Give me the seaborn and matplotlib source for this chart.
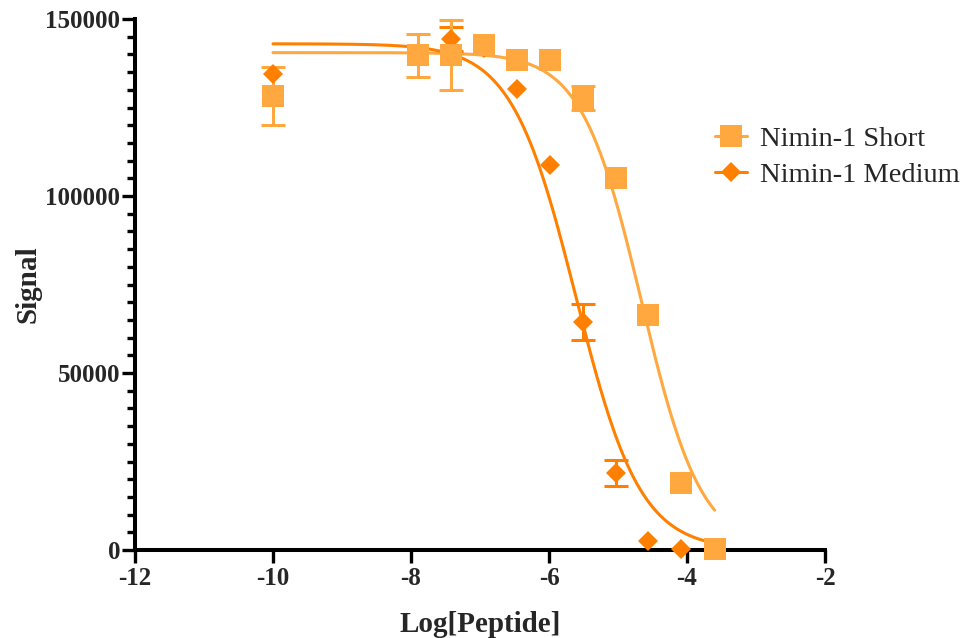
import numpy as np
import pandas as pd
import matplotlib
matplotlib.use("Agg")
import matplotlib.pyplot as plt
from matplotlib.lines import Line2D
from matplotlib.ticker import MultipleLocator
import seaborn as sns

# ---- data ----
log_peptide = [-10.0, -7.90, -7.42, -6.94, -6.47, -5.99, -5.51, -5.03, -4.56, -4.08, -3.60]
short_signal = [128250, 139800, 139800, 142650, 138400, 138400, 127700, 105100, 66300, 18900, 300]
short_err = [8200, 6100, 9800, 0, 0, 0, 3300, 0, 0, 0, 0]
medium_signal = [134450, 139500, 144350, 141800, 130200, 108700, 64400, 21750, 2540, 300, 200]
medium_err = [0, 0, 3400, 0, 0, 0, 5200, 3700, 0, 0, 0]

# fitted 4-parameter logistic curves (top, bottom, logIC50, hill) read from the drawn fits
short_fit = {"top": 140500, "bottom": 0, "logic50": -4.66, "hill": 1.0}
medium_fit = {"top": 143000, "bottom": 0, "logic50": -5.61, "hill": 0.93}
fit_range = (-10.0, -3.60)

series_names = ["Nimin-1 Short", "Nimin-1 Medium"]
x_ticks = [-12, -10, -8, -6, -4, -2]
y_ticks = [0, 50000, 100000, 150000]

# ---- style ----
sns.set_style("ticks")
plt.rcParams["font.family"] = ["Liberation Serif", "DejaVu Serif"]

c_short = "#FFA83F"
c_medium = "#FF8000"

fig = plt.figure(figsize=(9.66, 6.38), dpi=100)
ax = fig.add_axes([135 / 966, 1 - 550 / 638, 690 / 966, 531 / 638])

# curves
def curve_frame(p, name):
    xs = np.linspace(fit_range[0], fit_range[1], 400)
    ys = p["bottom"] + (p["top"] - p["bottom"]) / (1 + 10 ** ((xs - p["logic50"]) * p["hill"]))
    return pd.DataFrame({"x": xs, "y": ys, "series": name})

curves = pd.concat([curve_frame(short_fit, series_names[0]),
                    curve_frame(medium_fit, series_names[1])])
sns.lineplot(data=curves, x="x", y="y", hue="series",
             palette={series_names[0]: c_short, series_names[1]: c_medium},
             linewidth=2.2, legend=False, ax=ax, zorder=2, sort=False)

x = np.array(log_peptide)
for ys, es, col, mk, ms, z in [
    (medium_signal, medium_err, c_medium, "D", 10.3, 4),
    (short_signal, short_err, c_short, "s", 15.6, 5),
]:
    ys = np.array(ys, dtype=float)
    es = np.array(es, dtype=float)
    m = es > 0
    ax.errorbar(x[m], ys[m], yerr=es[m], fmt="none", ecolor=col, elinewidth=2.2,
                capsize=8.3, capthick=2.2, zorder=3, clip_on=False)
    ax.plot(x, ys, linestyle="none", marker=mk, markersize=ms, color=col,
            markeredgewidth=0, zorder=z, clip_on=False)

ax.set_xlim(-12, -2)
ax.set_ylim(0, 150000)
ax.set_xticks(x_ticks)
ax.set_xticklabels([str(t) for t in x_ticks])
ax.set_yticks(y_ticks)
ax.set_yticklabels([str(t) for t in y_ticks])
ax.yaxis.set_minor_locator(MultipleLocator(5000))

sns.despine(ax=ax)
for s in ["left", "bottom"]:
    ax.spines[s].set_linewidth(2.9)
    ax.spines[s].set_color("black")
    ax.spines[s].set_zorder(3.5)

ax.tick_params(axis="both", which="major", length=9.5, width=2.4, color="black",
               labelsize=18, direction="out")
ax.tick_params(axis="y", which="major", pad=1)
ax.tick_params(axis="x", which="major", pad=3)
ax.tick_params(axis="y", which="minor", length=6, width=2.4, color="black", direction="out")
for lab in ax.get_xticklabels() + ax.get_yticklabels():
    lab.set_fontweight("bold")

ax.set_xlabel("Log[Peptide]", fontsize=21, fontweight="bold", labelpad=15)
ax.set_ylabel("Signal", fontsize=21, fontweight="bold", labelpad=3)

handles = [
    Line2D([0], [0], color=c_short, marker="s", markersize=15.6, lw=2.2, markeredgewidth=0),
    Line2D([0], [0], color=c_medium, marker="D", markersize=10.3, lw=2.2, markeredgewidth=0),
]
fig.legend(handles, series_names, loc="upper left", bbox_to_anchor=(701 / 966, 1 - 112 / 638),
           frameon=False, fontsize=20.5, handlelength=1.1, handletextpad=0.46,
           labelspacing=0.35, borderpad=0)

fig.savefig("out.png", dpi=100)
